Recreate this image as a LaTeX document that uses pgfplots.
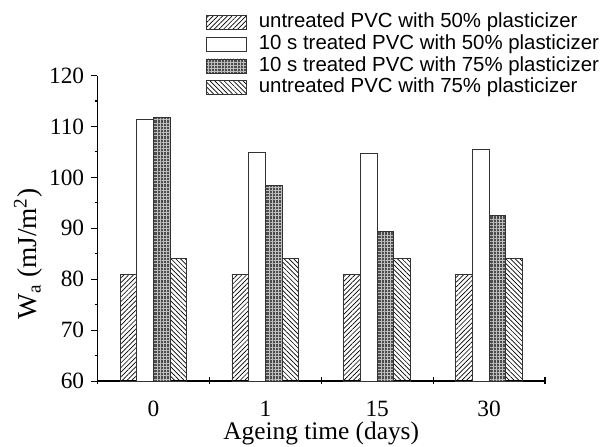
\documentclass[border=0pt]{standalone}
\usepackage{fontspec}
\setmainfont{Liberation Serif}
\newfontfamily\arial{Liberation Sans}
\usepackage{pgfplots}
\pgfplotsset{compat=1.18}
\usetikzlibrary{patterns,patterns.meta}
\begin{document}
\begin{tikzpicture}
\pgfplotsset{legbox/.style={legend image code/.code={\draw[##1] (0pt,-5.25pt) rectangle (30pt,5.25pt);}}}
\begin{axis}[at={(0,0)},anchor=south west,
  width=335.6pt,height=229.1pt,scale only axis,
  xmin=0,xmax=4,ymin=60,ymax=120,
  axis x line*=bottom,axis y line*=left,
  axis line style={black,line width=0.9pt},
  ytick={60,70,...,120},minor y tick num=1,
  xtick={0,1,2,3,4},xticklabels={0,1,15,30,{}},
  tick align=outside,major tick length=5pt,minor tick length=2.2pt,
  tick style={black,line width=0.8pt},
  xtick style={yshift=3pt},
  /pgf/number format/assume math mode=true,
  ticklabel style={font=\fontsize{17.5}{20}\selectfont},
  y tick label style={xshift=-1.5pt},
  x tick label style={anchor=base,xshift=42pt,yshift=-21.5pt},
  label style={font=\fontsize{19}{22}\selectfont},
  xlabel={Ageing time (days)},
  xlabel style={at={(axis description cs:0.5,-0.19)},anchor=base},
  ylabel={W\textsubscript{a} (mJ/m\textsuperscript{2})},
  ylabel style={at={(axis description cs:-0.155,0.415)},anchor=center,font=\fontsize{20.5}{23}\selectfont},
  ybar=0pt,bar width=0.149,
  legend style={at={(axis description cs:0.242,1.205)},anchor=north west,
    draw=none,fill=none,inner sep=0pt,row sep=2.3pt,
    font=\arial\fontsize{15.3}{17}\selectfont,
    nodes={inner sep=0pt,text height=10.8pt,text depth=3.2pt},
    /tikz/every even column/.append style={column sep=0pt}},
  legend cell align=left,
]
\addplot[legbox,draw=black!80,line width=0.6pt,pattern={Lines[angle=45,distance=2.5pt,line width=0.5pt]}]
  coordinates {(0.5,81.0) (1.5,81.0) (2.5,81.0) (3.5,81.0)};
\addlegendentry{\hspace{9pt}untreated PVC with 50\% plasticizer}
\addplot[legbox,draw=black!80,line width=0.6pt,fill=white]
  coordinates {(0.5,111.3) (1.5,104.9) (2.5,104.8) (3.5,105.5)};
\addlegendentry{\hspace{9pt}10 s treated PVC with 50\% plasticizer}
\addplot[legbox,draw=black!80,line width=0.6pt,fill=black!70,
  postaction={pattern={Hatch[distance=2.4pt,line width=0.45pt]},pattern color=black!25}]
  coordinates {(0.5,111.8) (1.5,98.4) (2.5,89.3) (3.5,92.6)};
\addlegendentry{\hspace{9pt}10 s treated PVC with 75\% plasticizer}
\addplot[legbox,draw=black!80,line width=0.6pt,pattern={Lines[angle=-45,distance=2.5pt,line width=0.5pt]}]
  coordinates {(0.5,84.0) (1.5,84.0) (2.5,84.0) (3.5,84.0)};
\addlegendentry{\hspace{9pt}untreated PVC with 75\% plasticizer}
\end{axis}
\pgfresetboundingbox
\path[use as bounding box] (-73.1pt,-48.75pt) rectangle (380.6pt,285.75pt);
\end{tikzpicture}
\end{document}
